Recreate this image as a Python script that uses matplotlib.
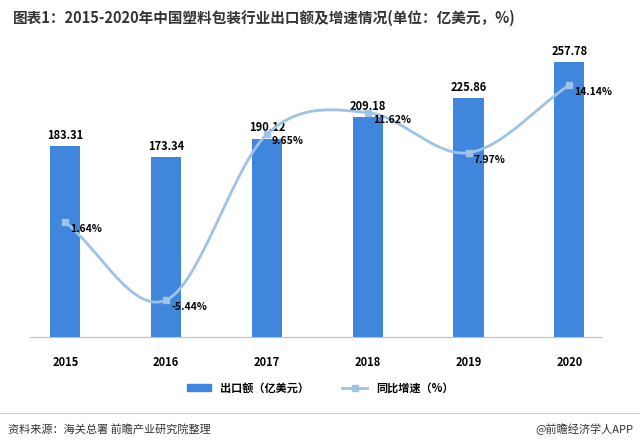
import matplotlib
matplotlib.use("Agg")
import matplotlib.pyplot as plt
import numpy as np

plt.rcParams["font.family"] = ["Noto Sans CJK SC"]

years = ["2015", "2016", "2017", "2018", "2019", "2020"]
exports = [183.31, 173.34, 190.12, 209.18, 225.86, 257.78]
growth = [1.64, -5.44, 9.65, 11.62, 7.97, 14.14]

fig = plt.figure(figsize=(6.4, 4.47), dpi=100)
ax = fig.add_axes([0.047, 0.246, 0.893, 0.664])
x = np.arange(len(years))
ax.bar(x, exports, width=0.3, color="#3f86dc", zorder=2)
ax.set_ylim(14, 277.3)
ax.set_xlim(-0.35, 5.32)
for s in ["top", "right", "left"]:
    ax.spines[s].set_visible(False)
ax.spines["bottom"].set_color("#bfbfbf")
ax.set_yticks([])
ax.set_xticks(x)
ax.set_xticklabels(years, fontsize=8, fontweight="bold")
ax.tick_params(axis="x", length=0, pad=14)
for xi, v in zip(x, exports):
    ax.text(xi, v + 4, f"{v:.2f}", ha="center", va="bottom", fontsize=8, fontweight="bold")

ax2 = ax.twinx()
ax2.set_ylim(-8.8, 18.2)
ax2.axis("off")
px = np.array(x, float); py = np.array(growth, float)
P = np.vstack([px, py]).T
P = np.vstack([2*P[0]-P[1], P, 2*P[-1]-P[-2]])
cx, cy = [], []
for i in range(1, len(P)-2):
    p0, p1, p2, p3 = P[i-1], P[i], P[i+1], P[i+2]
    for t in np.linspace(0, 1, 30):
        pt = 0.5*((2*p1) + (-p0+p2)*t + (2*p0-5*p1+4*p2-p3)*t**2 + (-p0+3*p1-3*p2+p3)*t**3)
        cx.append(pt[0]); cy.append(pt[1])
ax2.plot(cx, cy, color="#9dc3e6", lw=2, zorder=3)
ax2.plot(px, py, "s", color="#9dc3e6", ms=5, zorder=4)
for xi, v in zip(px, py):
    ax2.text(xi + 0.05, v - 0.2, f"{v:.2f}%", ha="left", va="top", fontsize=7.5, fontweight="bold")

from matplotlib.patches import Patch
from matplotlib.lines import Line2D
h = [Patch(color="#3f86dc"), Line2D([], [], color="#9dc3e6", lw=2, marker="s", ms=5)]
fig.legend(h, ["出口额（亿美元）", "同比增速（%）"], loc="center", bbox_to_anchor=(0.5, 0.132),
           ncol=2, frameon=False, prop={"size": 8, "weight": "bold"}, handlelength=2.2, columnspacing=3)

fig.text(0.02, 0.96, "图表1：2015-2020年中国塑料包装行业出口额及增速情况(单位：亿美元，%)",
         fontsize=10.5, fontweight="bold", color="#333333", va="center")
fig.add_artist(Line2D([0.0, 1.0], [0.075, 0.075], color="#cccccc", lw=0.8))
fig.text(0.012, 0.04, "资料来源：海关总署 前瞻产业研究院整理", fontsize=8, va="center", color="#333333")
fig.text(0.99, 0.04, "@前瞻经济学人APP", fontsize=8, va="center", ha="right", color="#333333")
fig.savefig("out.png", dpi=100, facecolor="white")
